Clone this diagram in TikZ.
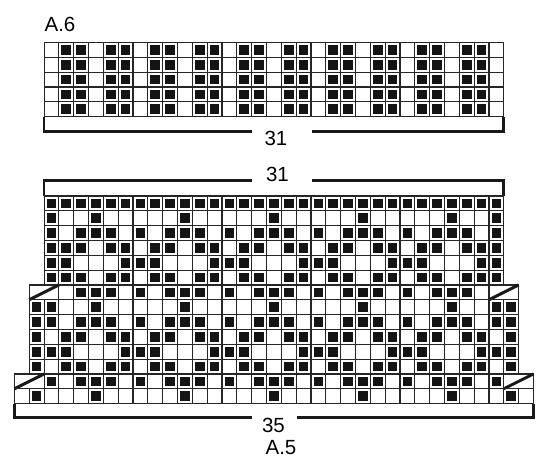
\documentclass[tikz,border=0pt]{standalone}
\usepackage{fontspec}
\setmainfont{Liberation Sans}

\newcommand{\chartrow}[4]{%
  \foreach \c in {#2,...,#3}
    \draw[gridline] ({\c*14.83-0.43},#1) rectangle ++(14.83,14.83);
  \foreach \c in {#4}
    \fill[stitch] ({\c*14.83-0.43+2.6},{#1+2.6}) rectangle ++(9.6,9.6);
}

\begin{document}
\begin{tikzpicture}[x=1pt,y=-1pt,
  gridline/.style={draw=black!85,line width=1.1pt},
  stitch/.style={fill=black!92},
  bracket/.style={draw=black!90,line width=2.6pt},
  increase/.style={draw=black!90,line width=3pt},
  chartlabel/.style={font=\fontsize{20.5}{21}\selectfont,inner sep=0pt}]
  \useasboundingbox (0,0) rectangle (550,463);

  \node[chartlabel] (a6title) at (60,24.5) {A.6};
  \chartrow{42.5}{3}{33}{4,5,7,8,10,11,13,14,16,17,19,20,22,23,25,26,28,29,31,32}
  \chartrow{57.33}{3}{33}{4,5,7,8,10,11,13,14,16,17,19,20,22,23,25,26,28,29,31,32}
  \chartrow{72.16}{3}{33}{4,5,7,8,10,11,13,14,16,17,19,20,22,23,25,26,28,29,31,32}
  \chartrow{86.99}{3}{33}{4,5,7,8,10,11,13,14,16,17,19,20,22,23,25,26,28,29,31,32}
  \chartrow{101.82}{3}{33}{4,5,7,8,10,11,13,14,16,17,19,20,22,23,25,26,28,29,31,32}
  \node[chartlabel] (a6width) at (276,138.5) {31};
  \draw[bracket] (44.06,116.65) -- (44.06,131.7) -- (252,131.7);
  \draw[bracket] (312,131.7) -- (503.79,131.7) -- (503.79,116.65);

  \node[chartlabel] (a5width) at (277.5,174) {31};
  \draw[bracket] (44.06,196) -- (44.06,180.7) -- (252,180.7);
  \draw[bracket] (311.7,180.7) -- (503.79,180.7) -- (503.79,196);

  \chartrow{196}{3}{33}{3,...,33}
  \chartrow{210.83}{3}{33}{3,6,12,18,24,30,33}
  \chartrow{225.66}{3}{33}{3,5,6,7,9,11,12,13,15,17,18,19,21,23,24,25,27,29,30,31,33}
  \chartrow{240.49}{3}{33}{3,4,5,7,8,10,11,13,14,16,17,19,20,22,23,25,26,28,29,31,32,33}
  \chartrow{255.32}{3}{33}{3,4,8,9,10,14,15,16,20,21,22,26,27,28,32,33}
  \chartrow{270.15}{3}{33}{3,4,5,7,8,10,11,13,14,16,17,19,20,22,23,25,26,28,29,31,32,33}
  \chartrow{284.98}{4}{32}{5,6,7,9,11,12,13,15,17,18,19,21,23,24,25,27,29,30,31}
  \draw[gridline] (29.23,284.98) rectangle (58.89,299.81);
  \draw[increase] (29.23,299.81) -- (58.89,284.98);
  \draw[gridline] (488.96,284.98) rectangle (518.62,299.81);
  \draw[increase] (488.96,299.81) -- (518.62,284.98);
  \chartrow{299.81}{2}{34}{2,3,6,12,18,24,30,33,34}
  \chartrow{314.64}{2}{34}{2,3,5,6,7,9,11,12,13,15,17,18,19,21,23,24,25,27,29,30,31,33,34}
  \chartrow{329.47}{2}{34}{2,4,5,7,8,10,11,13,14,16,17,19,20,22,23,25,26,28,29,31,32,34}
  \chartrow{344.3}{2}{34}{2,3,4,8,9,10,14,15,16,20,21,22,26,27,28,32,33,34}
  \chartrow{359.13}{2}{34}{2,4,5,7,8,10,11,13,14,16,17,19,20,22,23,25,26,28,29,31,32,34}
  \chartrow{373.96}{3}{33}{3,5,6,7,9,11,12,13,15,17,18,19,21,23,24,25,27,29,30,31,33}
  \draw[gridline] (14.4,373.96) rectangle (44.06,388.79);
  \draw[increase] (14.4,388.79) -- (44.06,373.96);
  \draw[gridline] (503.79,373.96) rectangle (533.45,388.79);
  \draw[increase] (503.79,388.79) -- (533.45,373.96);
  \chartrow{388.79}{1}{35}{2,6,12,18,24,30,34}

  \draw[bracket] (14.4,403.62) -- (14.4,417.5) -- (252,417.5);
  \draw[bracket] (297,417.5) -- (533.45,417.5) -- (533.45,403.62);
  \node[chartlabel] (a5base) at (273.5,425) {35};
  \node[chartlabel] (a5title) at (281,447.5) {A.5};
\end{tikzpicture}
\end{document}
